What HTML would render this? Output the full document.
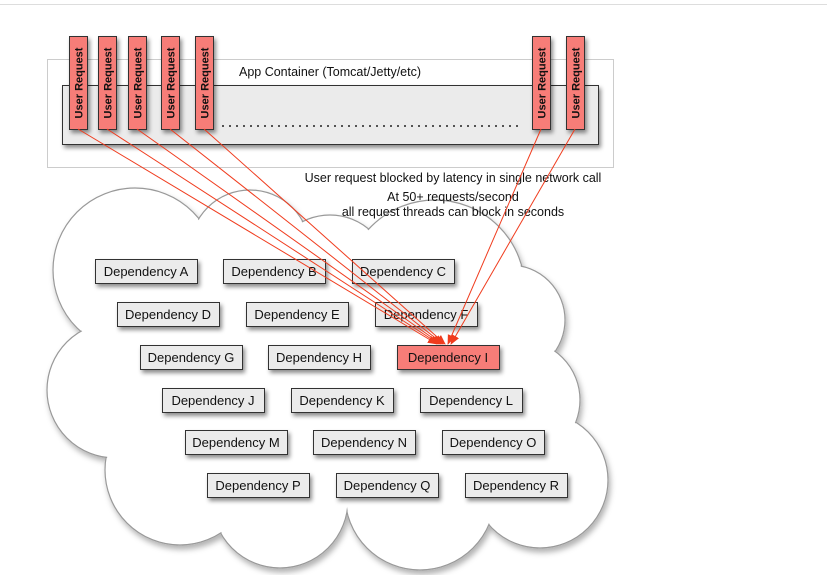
<!DOCTYPE html>
<html><head><meta charset="utf-8"><style>
body{margin:0;background:#fff;}
svg{display:block;font-family:"Liberation Sans",sans-serif;}
</style></head><body>
<svg width="827" height="575" viewBox="0 0 827 575" xmlns="http://www.w3.org/2000/svg">
<defs>
<filter id="sh" x="-20%" y="-20%" width="150%" height="150%"><feDropShadow dx="2" dy="3" stdDeviation="2" flood-color="#000" flood-opacity="0.45"/></filter>
<filter id="csh" x="-10%" y="-10%" width="130%" height="130%"><feDropShadow dx="2" dy="4" stdDeviation="3" flood-color="#000" flood-opacity="0.3"/></filter>
<marker id="ar" markerWidth="10" markerHeight="10" refX="9" refY="5" orient="auto" markerUnits="userSpaceOnUse"><path d="M0,1 L10,5 L0,9 z" fill="#f03c1e"/></marker>
</defs>
<line x1="0" y1="4.5" x2="827" y2="4.5" stroke="#ddd"/>
<rect x="47.5" y="59.5" width="566" height="108" fill="#fff" stroke="#ccc"/>
<rect x="62.5" y="85.5" width="536" height="59" fill="#ebebeb" stroke="#333" filter="url(#sh)"/>
<text x="330" y="76" font-size="12.5" text-anchor="middle" fill="#111">App Container (Tomcat/Jetty/etc)</text>
<g fill="#222"><circle cx="223" cy="126" r="1"/><circle cx="230" cy="126" r="1"/><circle cx="237" cy="126" r="1"/><circle cx="244" cy="126" r="1"/><circle cx="251" cy="126" r="1"/><circle cx="258" cy="126" r="1"/><circle cx="265" cy="126" r="1"/><circle cx="272" cy="126" r="1"/><circle cx="279" cy="126" r="1"/><circle cx="286" cy="126" r="1"/><circle cx="293" cy="126" r="1"/><circle cx="300" cy="126" r="1"/><circle cx="307" cy="126" r="1"/><circle cx="314" cy="126" r="1"/><circle cx="321" cy="126" r="1"/><circle cx="328" cy="126" r="1"/><circle cx="335" cy="126" r="1"/><circle cx="342" cy="126" r="1"/><circle cx="349" cy="126" r="1"/><circle cx="356" cy="126" r="1"/><circle cx="363" cy="126" r="1"/><circle cx="370" cy="126" r="1"/><circle cx="377" cy="126" r="1"/><circle cx="384" cy="126" r="1"/><circle cx="391" cy="126" r="1"/><circle cx="398" cy="126" r="1"/><circle cx="405" cy="126" r="1"/><circle cx="412" cy="126" r="1"/><circle cx="419" cy="126" r="1"/><circle cx="426" cy="126" r="1"/><circle cx="433" cy="126" r="1"/><circle cx="440" cy="126" r="1"/><circle cx="447" cy="126" r="1"/><circle cx="454" cy="126" r="1"/><circle cx="461" cy="126" r="1"/><circle cx="468" cy="126" r="1"/><circle cx="475" cy="126" r="1"/><circle cx="482" cy="126" r="1"/><circle cx="489" cy="126" r="1"/><circle cx="496" cy="126" r="1"/><circle cx="503" cy="126" r="1"/><circle cx="510" cy="126" r="1"/><circle cx="517" cy="126" r="1"/></g>
<!-- cloud -->
<g filter="url(#csh)">
<g fill="#fff" stroke="#999" stroke-width="1.2">
<circle cx="135" cy="270" r="82"/><circle cx="250" cy="250" r="60"/><circle cx="330" cy="275" r="60"/><circle cx="435" cy="290" r="90"/><circle cx="510" cy="320" r="55"/><circle cx="540" cy="480" r="68"/><circle cx="420" cy="495" r="75"/><circle cx="280" cy="500" r="68"/><circle cx="180" cy="470" r="75"/><circle cx="115" cy="390" r="68"/><circle cx="520" cy="400" r="60"/>
</g>
<g fill="#fff">
<circle cx="135" cy="270" r="81"/><circle cx="250" cy="250" r="59"/><circle cx="330" cy="275" r="59"/><circle cx="435" cy="290" r="89"/><circle cx="510" cy="320" r="54"/><circle cx="540" cy="480" r="67"/><circle cx="420" cy="495" r="74"/><circle cx="280" cy="500" r="67"/><circle cx="180" cy="470" r="74"/><circle cx="115" cy="390" r="67"/><circle cx="520" cy="400" r="59"/><rect x="150" y="280" width="380" height="220"/>
</g>
</g>
<text x="453" y="182" font-size="12.5" text-anchor="middle" fill="#111">User request blocked by latency in single network call</text>
<text x="453" y="201" font-size="12.5" text-anchor="middle" fill="#111">At 50+ requests/second</text>
<text x="453" y="216" font-size="12.5" text-anchor="middle" fill="#111">all request threads can block in seconds</text>
<g font-size="13" text-anchor="middle" fill="#111">
<g filter="url(#sh)" fill="#ebebeb" stroke="#333">
<rect x="95.5" y="259.5" width="102" height="24"/><rect x="223.5" y="259.5" width="102" height="24"/><rect x="352.5" y="259.5" width="102" height="24"/>
<rect x="117.5" y="302.5" width="102" height="24"/><rect x="246.5" y="302.5" width="102" height="24"/><rect x="375.5" y="302.5" width="102" height="24"/>
<rect x="140.5" y="345.5" width="102" height="24"/><rect x="268.5" y="345.5" width="102" height="24"/><rect x="397.5" y="345.5" width="102" height="24" fill="#f77d78"/>
<rect x="162.5" y="388.5" width="102" height="24"/><rect x="291.5" y="388.5" width="102" height="24"/><rect x="420.5" y="388.5" width="102" height="24"/>
<rect x="185.5" y="430.5" width="102" height="24"/><rect x="313.5" y="430.5" width="102" height="24"/><rect x="442.5" y="430.5" width="102" height="24"/>
<rect x="207.5" y="473.5" width="102" height="24"/><rect x="336.5" y="473.5" width="102" height="24"/><rect x="465.5" y="473.5" width="102" height="24"/>
</g>
<text x="146" y="276">Dependency A</text><text x="274" y="276">Dependency B</text><text x="403" y="276">Dependency C</text>
<text x="168" y="319">Dependency D</text><text x="297" y="319">Dependency E</text><text x="426" y="319">Dependency F</text>
<text x="191" y="362">Dependency G</text><text x="319" y="362">Dependency H</text><text x="448" y="362">Dependency I</text>
<text x="213" y="405">Dependency J</text><text x="342" y="405">Dependency K</text><text x="471" y="405">Dependency L</text>
<text x="236" y="447">Dependency M</text><text x="364" y="447">Dependency N</text><text x="493" y="447">Dependency O</text>
<text x="258" y="490">Dependency P</text><text x="387" y="490">Dependency Q</text><text x="516" y="490">Dependency R</text>
</g>
<!-- user requests -->
<g filter="url(#sh)" fill="#f77d78" stroke="#333">
<rect x="69.5" y="36.5" width="18" height="93"/><rect x="98.5" y="36.5" width="18" height="93"/><rect x="128.5" y="36.5" width="18" height="93"/><rect x="161.5" y="36.5" width="18" height="93"/><rect x="195.5" y="36.5" width="18" height="93"/><rect x="532.5" y="36.5" width="18" height="93"/><rect x="566.5" y="36.5" width="18" height="93"/>
</g>
<g font-size="11" font-weight="bold" fill="#111" text-anchor="middle">
<text transform="translate(82.5,83) rotate(-90)">User Request</text>
<text transform="translate(111.5,83) rotate(-90)">User Request</text>
<text transform="translate(141.5,83) rotate(-90)">User Request</text>
<text transform="translate(174.5,83) rotate(-90)">User Request</text>
<text transform="translate(208.5,83) rotate(-90)">User Request</text>
<text transform="translate(545.5,83) rotate(-90)">User Request</text>
<text transform="translate(579.5,83) rotate(-90)">User Request</text>
</g>
<g stroke="#f03c1e" stroke-width="1" marker-end="url(#ar)">
<line x1="78" y1="129" x2="437" y2="344"/>
<line x1="107" y1="129" x2="439" y2="344"/>
<line x1="137" y1="129" x2="441" y2="344"/>
<line x1="170" y1="129" x2="443" y2="344"/>
<line x1="204" y1="129" x2="445" y2="344"/>
<line x1="541" y1="129" x2="448" y2="344"/>
<line x1="575" y1="129" x2="451" y2="344"/>
</g>
</svg>
</body></html>
